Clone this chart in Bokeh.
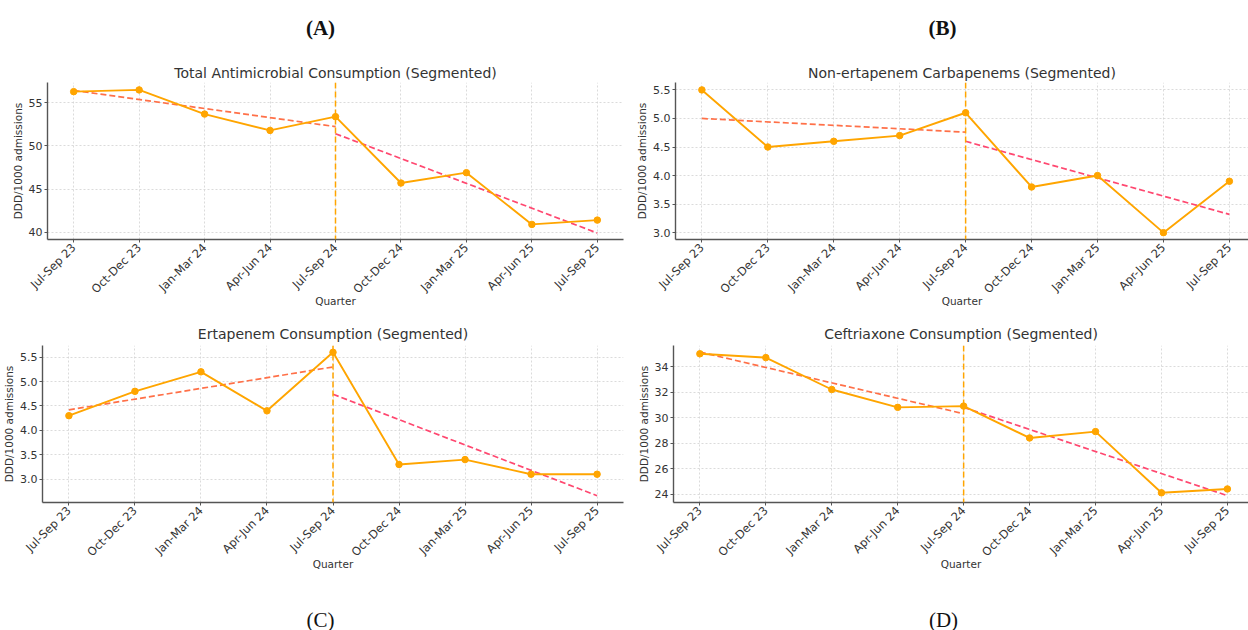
import math
from bokeh.plotting import figure
from bokeh.models import Title, Span, FixedTicker, Range1d, NumeralTickFormatter
from bokeh.core.properties import value
from bokeh.layouts import column, row
from bokeh.embed import file_html
from bokeh.resources import INLINE

quarters = ["Jul-Sep 23", "Oct-Dec 23", "Jan-Mar 24", "Apr-Jun 24", "Jul-Sep 24",
            "Oct-Dec 24", "Jan-Mar 25", "Apr-Jun 25", "Jul-Sep 25"]
break_quarter = "Jul-Sep 24"

total_vals = [56.3, 56.5, 53.7, 51.8, 53.4, 45.7, 46.9, 40.9, 41.4]
total_trend_pre = [56.44, 52.24]
total_trend_post = [51.42, 39.9]
total_ticks = [40, 45, 50, 55]

nonert_vals = [5.5, 4.5, 4.6, 4.7, 5.1, 3.8, 4.0, 3.0, 3.9]
nonert_trend_pre = [5.0, 4.76]
nonert_trend_post = [4.6, 3.32]
nonert_ticks = [3.0, 3.5, 4.0, 4.5, 5.0, 5.5]

ert_vals = [4.3, 4.8, 5.2, 4.4, 5.6, 3.3, 3.4, 3.1, 3.1]
ert_trend_pre = [4.42, 5.3]
ert_trend_post = [4.74, 2.66]
ert_ticks = [3.0, 3.5, 4.0, 4.5, 5.0, 5.5]

ceft_vals = [35.0, 34.7, 32.2, 30.8, 30.9, 28.4, 28.9, 24.1, 24.4]
ceft_trend_pre = [35.14, 30.3]
ceft_trend_post = [30.8, 23.88]
ceft_ticks = [24, 26, 28, 30, 32, 34]

top_letters = ["(A)", "(B)"]
bottom_letters = ["(C)", "(D)"]

ORANGE = "#FFA500"
PRE_C = "#FF7048"
POST_C = "#FF4870"
FONT = "DejaVu Sans"
TXT = "#333333"
AX = "#555555"
PAGE_W = 1248


def make_panel(title, title_standoff, vals, pre, post,
               yticks, yrange, fmt, width, height, borders, xend):
    bl, br, bt, bb = borders
    p = figure(width=width, height=height, output_backend="svg", toolbar_location=None,
               x_range=Range1d(-0.4, xend), y_range=Range1d(*yrange),
               min_border_left=bl, min_border_right=br, min_border_top=bt, min_border_bottom=bb,
               title=None)
    p.outline_line_color = None
    p.background_fill_color = "white"
    p.border_fill_color = "white"

    xs = list(range(len(quarters)))
    bi = quarters.index(break_quarter)
    last = len(quarters) - 1

    p.line([0, bi], pre, line_color=PRE_C, line_width=1.7, line_dash="6 3")
    p.line([bi, last], post, line_color=POST_C, line_width=1.7, line_dash="6 3")
    p.line(xs, vals, line_color=ORANGE, line_width=1.9)
    p.scatter(xs, vals, size=6.5, fill_color=ORANGE, line_color=ORANGE)
    p.add_layout(Span(location=bi, dimension="height", line_color=ORANGE,
                      line_width=1.5, line_dash="6 3"))

    p.xaxis.ticker = FixedTicker(ticks=xs)
    p.xaxis.major_label_overrides = {i: q for i, q in enumerate(quarters)}
    p.xaxis.major_label_orientation = math.pi / 4
    p.yaxis.ticker = FixedTicker(ticks=yticks)
    p.yaxis.formatter = NumeralTickFormatter(format=fmt)
    for ax in (p.xaxis, p.yaxis):
        ax.axis_line_color = AX
        ax.axis_line_width = 1.4
        ax.major_tick_line_color = AX
        ax.major_tick_out = 3
        ax.major_tick_in = 0
        ax.minor_tick_line_color = None
        ax.major_label_text_font = FONT
        ax.major_label_text_font_size = "11px"
        ax.major_label_text_color = TXT
        ax.axis_label_text_font = FONT
        ax.axis_label_text_font_size = "10.5px"
        ax.axis_label_text_font_style = "normal"
        ax.axis_label_text_color = TXT
        ax.major_label_standoff = 2
        ax.axis_label_standoff = 2
    p.xaxis.major_label_text_font_size = "11.5px"
    p.xaxis.axis_label = "Quarter"
    p.yaxis.axis_label = "DDD/1000 admissions"
    p.xaxis.major_label_standoff = 3
    p.xaxis.axis_label_standoff = -9

    for g in (p.xgrid, p.ygrid):
        g.grid_line_color = "#d2d2d2"
        g.grid_line_dash = "2 2"
        g.grid_line_width = 0.8
    p.xgrid.ticker = FixedTicker(ticks=xs)
    p.ygrid.ticker = FixedTicker(ticks=yticks)

    p.add_layout(Title(text=title, align="center", text_font=FONT, text_font_size="14px",
                       text_font_style="normal", text_color=TXT, standoff=title_standoff), "above")
    return p


def make_strip(letters, xs, y, height, style):
    s = figure(width=PAGE_W, height=height, output_backend="svg", toolbar_location=None,
               x_range=Range1d(0, PAGE_W), y_range=Range1d(0, height),
               min_border=0, min_border_left=0, min_border_right=0,
               min_border_top=0, min_border_bottom=0, title=None)
    s.axis.visible = False
    s.grid.visible = False
    s.outline_line_color = None
    s.text(x=xs, y=[y] * len(letters), text=letters,
           text_font=value("Liberation Serif"), text_font_size=value("21px"),
           text_font_style=style, text_color="#111111",
           text_align="center", text_baseline="middle")
    return s


top_strip = make_strip(top_letters, [320, 942], 18, 45, "bold")
bottom_strip = make_strip(bottom_letters, [320, 943], 11, 30, "normal")

pA = make_panel("Total Antimicrobial Consumption (Segmented)", 4,
                total_vals, total_trend_pre, total_trend_post, total_ticks,
                (39.15, 57.36), "0", 630, 273, (47, 7, 37, 79), 8.4)
pB = make_panel("Non-ertapenem Carbapenems (Segmented)", 4,
                nonert_vals, nonert_trend_pre, nonert_trend_post, nonert_ticks,
                (2.88, 5.63), "0.0", 618, 273, (45, 0, 37, 79), 8.29)
pC = make_panel("Ertapenem Consumption (Segmented)", 8,
                ert_vals, ert_trend_pre, ert_trend_post, ert_ticks,
                (2.52, 5.74), "0.0", 630, 282, (42, 7, 27, 98), 8.4)
pD = make_panel("Ceftriaxone Consumption (Segmented)", 8,
                ceft_vals, ceft_trend_pre, ceft_trend_post, ceft_ticks,
                (23.34, 35.65), "0", 618, 282, (43, 0, 27, 98), 8.32)

layout = column(top_strip, row(pA, pB, spacing=0), row(pC, pD, spacing=0), bottom_strip,
                spacing=0)
open("out.html", "w").write(file_html(layout, INLINE))
